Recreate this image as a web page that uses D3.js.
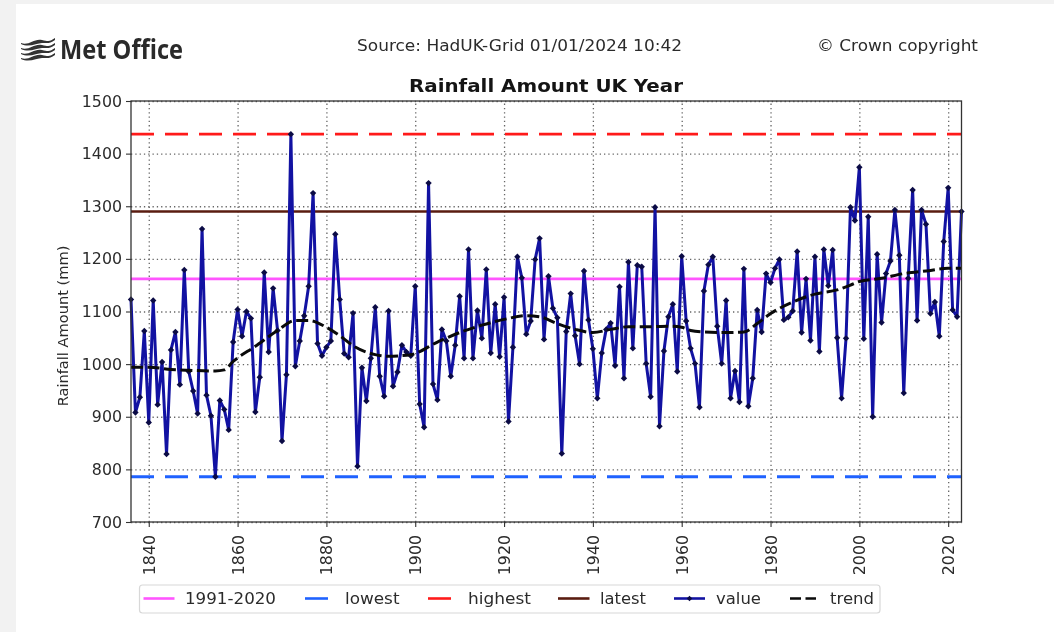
<!DOCTYPE html>
<html>
<head>
<meta charset="utf-8">
<script src="https://cdnjs.cloudflare.com/ajax/libs/d3/7.8.5/d3.min.js"></script>
<style>
    html, body { margin: 0; padding: 0; background: #f2f2f2; overflow: hidden; }
    #chart { position: absolute; left: 0; top: 0; width: 1054px; height: 632px; }
    svg { display: block; filter: blur(0.6px); font-family: "DejaVu Sans", sans-serif; }
</style>
</head>
<body>
<div id="chart"></div>
<script>
// Annual UK rainfall
const firstYear = 1836;
const rainfall = [
    1123, 908, 937, 1063, 889, 1121, 923, 1004, 829, 1027,
    1061, 961, 1179, 986, 949, 906, 1257, 941, 902, 786,
    931, 914, 875, 1042, 1104, 1053, 1100, 1087, 909, 975,
    1174, 1023, 1144, 1064, 854, 980, 1437, 996, 1044, 1092,
    1148, 1325, 1039, 1016, 1032, 1044, 1247, 1123, 1020, 1013,
    1097, 806, 993, 930, 1011, 1108, 977, 939, 1101, 958,
    985, 1036, 1023, 1016, 1148, 924, 880, 1344, 962, 932,
    1066, 1044, 977, 1036, 1129, 1011, 1218, 1011, 1102, 1049,
    1180, 1021, 1114, 1014, 1127, 891, 1032, 1204, 1164, 1057,
    1082, 1199, 1239, 1047, 1167, 1106, 1088, 830, 1062, 1134,
    1054, 1000, 1177, 1084, 1029, 935, 1021, 1066, 1078, 997,
    1147, 973, 1194, 1030, 1188, 1185, 1001, 938, 1298, 882,
    1025, 1090, 1114, 986, 1205, 1082, 1030, 1001, 918, 1139,
    1189, 1204, 1072, 1001, 1121, 935, 987, 928, 1181, 920,
    973, 1103, 1061, 1172, 1155, 1182, 1199, 1084, 1089, 1101,
    1214, 1060, 1162, 1045, 1204, 1024, 1218, 1149, 1217, 1050,
    935, 1049, 1298, 1273, 1374, 1048, 1280, 900, 1209, 1079,
    1172, 1196, 1293, 1207, 945, 1163, 1331, 1083, 1293, 1266,
    1096, 1118, 1053, 1233, 1335, 1103, 1090, 1290
];
const years = rainfall.map((d, i) => firstYear + i);

const trendYears = [1836, 1840, 1845, 1850, 1855, 1857, 1859, 1864, 1869, 1873, 1876, 1880, 1883, 1886, 1891, 1894, 1899,
    1905, 1910, 1915, 1920, 1925, 1928, 1932, 1936, 1940, 1944, 1948, 1952, 1957, 1960, 1962, 1965, 1970, 1974, 1977,
    1980, 1985, 1990, 1995, 1998, 2000, 2005, 2010, 2015, 2020, 2023];
const trendValues = [994, 994, 990, 988, 987, 989, 1005, 1034, 1064, 1083, 1083, 1070, 1054, 1035, 1018, 1015, 1018,
    1042, 1060, 1074, 1085, 1092, 1090, 1077, 1066, 1060, 1066, 1071, 1071, 1072, 1070, 1064, 1061, 1060, 1061, 1077,
    1096, 1118, 1133, 1141, 1150, 1157, 1163, 1172, 1177, 1182, 1182];

const refLabels = ['1991-2020', 'lowest', 'highest', 'latest'];
const refValues = [1162, 786, 1437, 1290];
const refColors = ['#ff55ff', '#1f62ff', '#ff1a1a', '#5a1c10'];
const refWidths = [2.8, 2.8, 2.8, 2.3];
const refDashes = [null, '23,11', '23,11', null];

const xTicks = [1840, 1860, 1880, 1900, 1920, 1940, 1960, 1980, 2000, 2020];
const yTicks = [700, 800, 900, 1000, 1100, 1200, 1300, 1400, 1500];

const width = 1054, height = 632;
const plot = { left: 131, right: 961.5, top: 101, bottom: 522 };
const inkColor = '#2b2b2b';

const svg = d3.select('#chart').append('svg')
    .attr('width', width)
    .attr('height', height);

// White page on a pale grey surround
svg.append('rect')
    .attr('x', 16).attr('y', 4)
    .attr('width', width - 16).attr('height', height - 4)
    .attr('fill', '#fff');

const x = d3.scaleLinear().domain([firstYear, 2023]).range([plot.left, plot.right]);
const y = d3.scaleLinear().domain([700, 1500]).range([plot.bottom, plot.top]);

// Grid first, so everything else sits on it
svg.append('g')
    .attr('transform', `translate(0,${plot.bottom})`)
    .call(d3.axisBottom(x).tickValues(xTicks).tickSize(plot.top - plot.bottom).tickFormat(''))
    .call(g => g.select('.domain').remove())
    .selectAll('line')
    .attr('stroke', '#666')
    .attr('stroke-width', 1.3)
    .attr('stroke-dasharray', '1.3,3');

svg.append('g')
    .attr('transform', `translate(${plot.left},0)`)
    .call(d3.axisLeft(y).tickValues(yTicks).tickSize(plot.left - plot.right).tickFormat(''))
    .call(g => g.select('.domain').remove())
    .selectAll('line')
    .attr('stroke', '#666')
    .attr('stroke-width', 1.3)
    .attr('stroke-dasharray', '1.3,3');

// Reference lines
refValues.forEach((v, i) => {
    svg.append('line')
        .attr('x1', plot.left).attr('x2', plot.right)
        .attr('y1', y(v)).attr('y2', y(v))
        .attr('stroke', refColors[i])
        .attr('stroke-width', refWidths[i])
        .attr('stroke-dasharray', refDashes[i]);
});

// Yearly values
const valueLine = d3.line()
    .x((d, i) => x(years[i]))
    .y(d => y(d));

svg.append('path')
    .datum(rainfall)
    .attr('d', valueLine)
    .attr('fill', 'none')
    .attr('stroke', '#1212a2')
    .attr('stroke-width', 3)
    .attr('stroke-linejoin', 'round');

svg.append('g')
    .selectAll('path')
    .data(rainfall)
    .enter()
    .append('path')
    .attr('d', d3.symbol().type(d3.symbolDiamond2).size(26))
    .attr('transform', (d, i) => `translate(${x(years[i])},${y(d)})`)
    .attr('fill', '#0b0b45');

// Trend
const trendLine = d3.line()
    .x((d, i) => x(trendYears[i]))
    .y(d => y(d))
    .curve(d3.curveMonotoneX);

svg.append('path')
    .datum(trendValues)
    .attr('d', trendLine)
    .attr('fill', 'none')
    .attr('stroke', '#0a0a0a')
    .attr('stroke-width', 3)
    .attr('stroke-dasharray', '12,4.5');

// Axes
const yAxis = svg.append('g')
    .attr('transform', `translate(${plot.left},0)`)
    .call(d3.axisLeft(y).tickValues(yTicks).tickSize(5).tickPadding(4).tickFormat(d3.format('d')));
const xAxis = svg.append('g')
    .attr('transform', `translate(0,${plot.bottom})`)
    .call(d3.axisBottom(x).tickValues(xTicks).tickSize(5).tickFormat(d3.format('d')));

yAxis.selectAll('text')
    .attr('font-size', 15.8)
    .attr('font-family', '"DejaVu Sans"')
    .attr('fill', inkColor);
xAxis.selectAll('text')
    .attr('font-size', 15.8)
    .attr('font-family', '"DejaVu Sans"')
    .attr('fill', inkColor)
    .attr('transform', 'rotate(-90)')
    .attr('text-anchor', 'end')
    .attr('x', -13)
    .attr('y', 0)
    .attr('dy', '0.35em');
[yAxis, xAxis].forEach(a => {
    a.selectAll('line').attr('stroke', '#333').attr('stroke-width', 1.1);
    a.select('.domain').remove();
});

svg.append('rect')
    .attr('x', plot.left).attr('y', plot.top)
    .attr('width', plot.right - plot.left).attr('height', plot.bottom - plot.top)
    .attr('fill', 'none')
    .attr('stroke', '#333')
    .attr('stroke-width', 1.3);

// Titles. The reference is stretched sideways, so the widths are pinned.
svg.append('text')
    .attr('x', 409).attr('y', 92)
    .attr('font-size', 17.4)
    .attr('font-weight', 'bold')
    .attr('fill', '#141414')
    .attr('textLength', 274)
    .attr('lengthAdjust', 'spacingAndGlyphs')
    .text('Rainfall Amount UK Year');

svg.append('text')
    .attr('transform', 'translate(68,326) rotate(-90)')
    .attr('text-anchor', 'middle')
    .attr('font-size', 14.6)
    .attr('fill', inkColor)
    .text('Rainfall Amount (mm)');

svg.append('text')
    .attr('x', 357).attr('y', 51)
    .attr('font-size', 15)
    .attr('fill', inkColor)
    .attr('textLength', 325)
    .attr('lengthAdjust', 'spacingAndGlyphs')
    .text('Source: HadUK-Grid 01/01/2024 10:42');

svg.append('text')
    .attr('x', 817).attr('y', 51)
    .attr('font-size', 15)
    .attr('fill', inkColor)
    .attr('textLength', 161)
    .attr('lengthAdjust', 'spacingAndGlyphs')
    .text('© Crown copyright');

// Met Office logo: filled wave bands and the name
const logo = svg.append('g').attr('transform', 'translate(21,39)');
[3, 8, 13, 18].forEach(dy => {
    logo.append('path')
        .attr('d', `M0,${dy + 1} C8,${dy + 4} 13,${dy - 4} 21,${dy - 2} S29,${dy - 1} 34,${dy - 4}
            L34,${dy - 2} C29,${dy + 2} 26,${dy + 1} 21,${dy + 1} S8,${dy + 6} 0,${dy + 2} Z`)
        .attr('fill', '#333');
});
svg.append('text')
    .attr('x', 60).attr('y', 59)
    .attr('font-family', '"Open Sans", sans-serif')
    .attr('font-size', 26)
    .attr('font-weight', 700)
    .attr('fill', '#2a2a2a')
    .attr('textLength', 123)
    .attr('lengthAdjust', 'spacingAndGlyphs')
    .text('Met Office');

// Legend, laid out as in the picture
const legendY = 598.5;
const legend = svg.append('g');
legend.append('rect')
    .attr('x', 139.5).attr('y', 585)
    .attr('width', 740.5).attr('height', 28)
    .attr('rx', 3)
    .attr('fill', '#fff')
    .attr('stroke', '#d8d8d8')
    .attr('stroke-width', 1.2);

const legendEntries = [
    { label: refLabels[0], x1: 143.5, x2: 174.5, tx: 185, tw: 91, color: refColors[0] },
    { label: refLabels[1], x1: 305, x2: 328, tx: 345, tw: 54.5, color: refColors[1] },
    { label: refLabels[2], x1: 428, x2: 451, tx: 468, tw: 63, color: refColors[2] },
    { label: refLabels[3], x1: 558, x2: 589.5, tx: 600, tw: 46, color: refColors[3] },
    { label: 'value', x1: 674, x2: 705, tx: 716, tw: 45, color: '#1212a2' },
    { label: 'trend', x1: 790, x2: 816, tx: 830, tw: 44, color: '#0a0a0a', dash: '11,4.5' }
];

legendEntries.forEach(d => {
    legend.append('line')
        .attr('x1', d.x1).attr('x2', d.x2)
        .attr('y1', legendY).attr('y2', legendY)
        .attr('stroke', d.color)
        .attr('stroke-width', 2.6)
        .attr('stroke-dasharray', d.dash || null);
    legend.append('text')
        .attr('x', d.tx).attr('y', legendY + 5.5)
        .attr('font-size', 15.6)
        .attr('fill', inkColor)
        .attr('textLength', d.tw)
        .attr('lengthAdjust', 'spacingAndGlyphs')
        .text(d.label);
});
legend.append('path')
    .attr('d', d3.symbol().type(d3.symbolDiamond2).size(20))
    .attr('transform', `translate(689.5,${legendY})`)
    .attr('fill', '#0b0b45');
</script>
</body>
</html>
